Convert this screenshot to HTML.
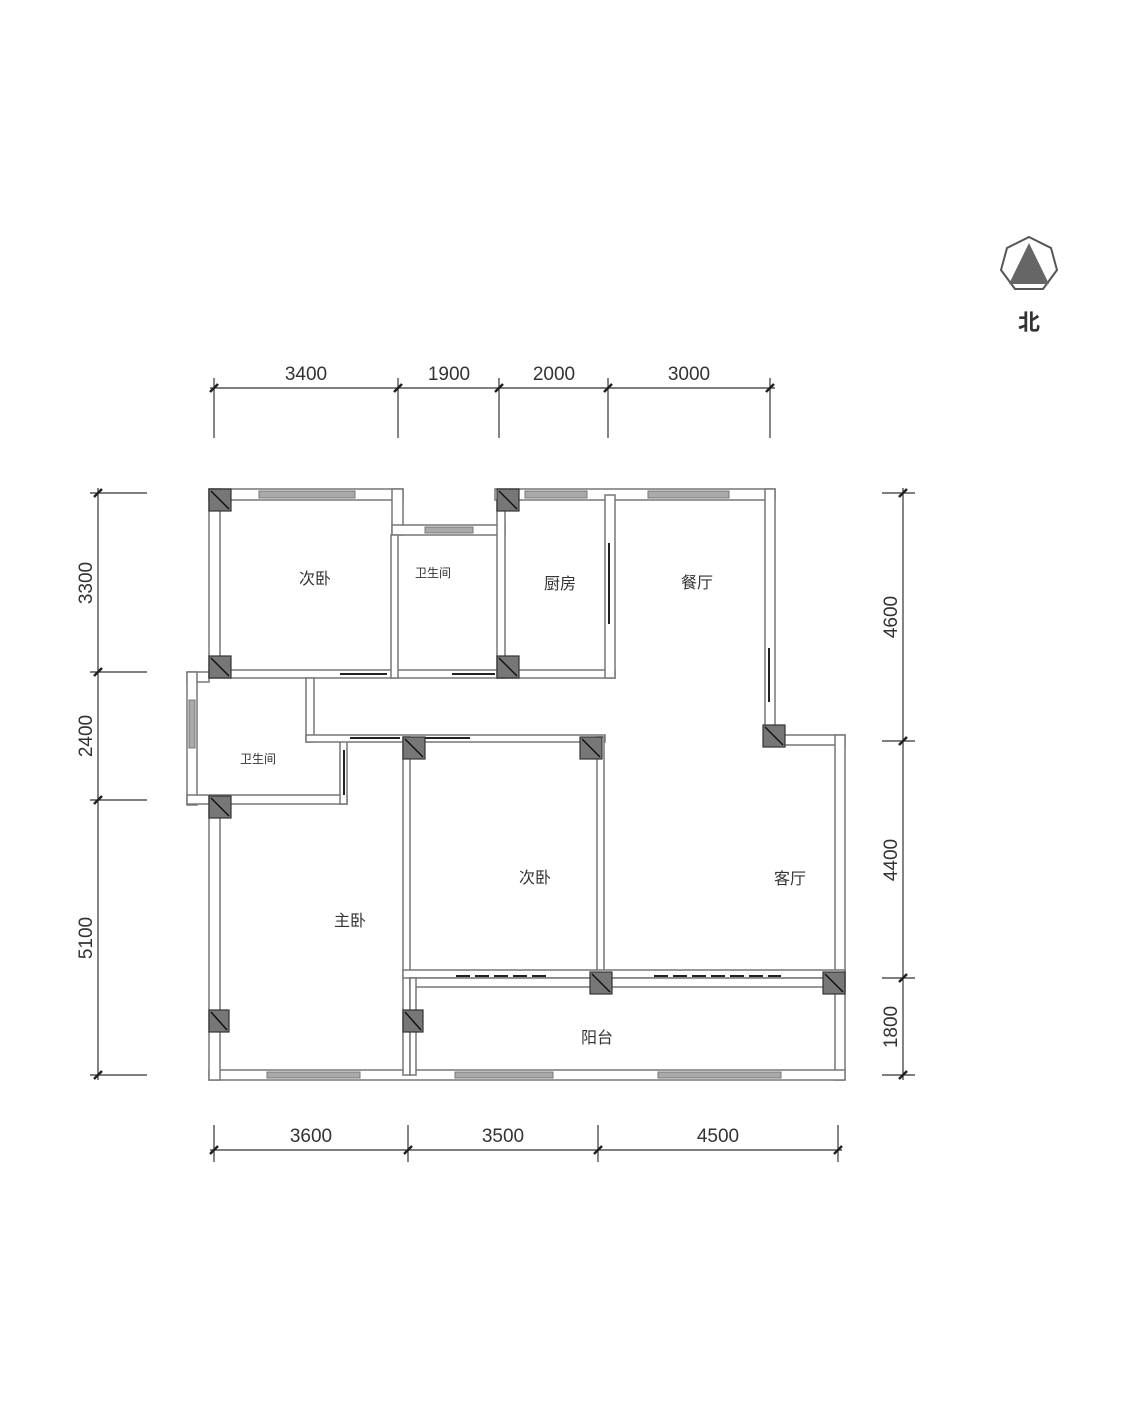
<!DOCTYPE html>
<html><head><meta charset="utf-8"><style>
html,body{margin:0;padding:0;background:#fff}
svg{display:block}
text{font-family:"Liberation Sans","Noto Sans CJK SC",sans-serif;fill:#333}
</style></head><body>
<svg width="1125" height="1409" viewBox="0 0 1125 1409" xmlns="http://www.w3.org/2000/svg">
<!-- north -->
<polygon points="1029,237 1051,248 1057,270 1043,289 1015,289 1001,270 1007,248" fill="#fff" stroke="#555" stroke-width="2"/>
<polygon points="1029,243 1049,284 1009,284" fill="#666"/>
<text x="1029" y="330" font-size="22" font-weight="bold" text-anchor="middle" fill="#222">北</text>

<g stroke="#333" stroke-width="1.2">
<!-- top dims -->
<line x1="210" y1="388" x2="775" y2="388"/>
<line x1="214" y1="378" x2="214" y2="438"/><line x1="398" y1="378" x2="398" y2="438"/><line x1="499" y1="378" x2="499" y2="438"/><line x1="608" y1="378" x2="608" y2="438"/><line x1="770" y1="378" x2="770" y2="438"/>
<!-- bottom -->
<line x1="210" y1="1150" x2="842" y2="1150"/>
<line x1="214" y1="1125" x2="214" y2="1162"/><line x1="408" y1="1125" x2="408" y2="1162"/><line x1="598" y1="1125" x2="598" y2="1162"/><line x1="838" y1="1125" x2="838" y2="1162"/>
<!-- left -->
<line x1="98" y1="488" x2="98" y2="1080"/>
<line x1="90" y1="493" x2="147" y2="493"/><line x1="90" y1="672" x2="147" y2="672"/><line x1="90" y1="800" x2="147" y2="800"/><line x1="90" y1="1075" x2="147" y2="1075"/>
<!-- right -->
<line x1="903" y1="488" x2="903" y2="1080"/>
<line x1="882" y1="493" x2="915" y2="493"/><line x1="882" y1="741" x2="915" y2="741"/><line x1="882" y1="978" x2="915" y2="978"/><line x1="882" y1="1075" x2="915" y2="1075"/>
</g>
<g stroke="#222" stroke-width="2.5">
<line x1="210" y1="392" x2="218" y2="384"/><line x1="394" y1="392" x2="402" y2="384"/><line x1="495" y1="392" x2="503" y2="384"/><line x1="604" y1="392" x2="612" y2="384"/><line x1="766" y1="392" x2="774" y2="384"/>
<line x1="210" y1="1154" x2="218" y2="1146"/><line x1="404" y1="1154" x2="412" y2="1146"/><line x1="594" y1="1154" x2="602" y2="1146"/><line x1="834" y1="1154" x2="842" y2="1146"/>
<line x1="94" y1="497" x2="102" y2="489"/><line x1="94" y1="676" x2="102" y2="668"/><line x1="94" y1="804" x2="102" y2="796"/><line x1="94" y1="1079" x2="102" y2="1071"/>
<line x1="899" y1="497" x2="907" y2="489"/><line x1="899" y1="745" x2="907" y2="737"/><line x1="899" y1="982" x2="907" y2="974"/><line x1="899" y1="1079" x2="907" y2="1071"/>
</g>
<g font-size="19" text-anchor="middle">
<text x="306" y="380">3400</text><text x="449" y="380">1900</text><text x="554" y="380">2000</text><text x="689" y="380">3000</text>
<text x="311" y="1142">3600</text><text x="503" y="1142">3500</text><text x="718" y="1142">4500</text>
<text transform="translate(92,583) rotate(-90)">3300</text>
<text transform="translate(92,736) rotate(-90)">2400</text>
<text transform="translate(92,938) rotate(-90)">5100</text>
<text transform="translate(897,617) rotate(-90)">4600</text>
<text transform="translate(897,860) rotate(-90)">4400</text>
<text transform="translate(897,1027) rotate(-90)">1800</text>
</g>

<!-- walls -->
<g fill="#fff" stroke="#777" stroke-width="1.5">
<rect x="209" y="489" width="194" height="11"/>
<rect x="392" y="489" width="11" height="46"/>
<rect x="392" y="525" width="113" height="10"/>
<rect x="495" y="489" width="280" height="11"/>
<rect x="765" y="489" width="10" height="246"/>
<rect x="765" y="735" width="80" height="10"/>
<rect x="835" y="735" width="10" height="345"/>
<rect x="209" y="1070" width="636" height="10"/>
<rect x="209" y="489" width="11" height="183"/>
<rect x="187" y="672" width="22" height="10"/>
<rect x="187" y="672" width="10" height="133"/>
<rect x="187" y="795" width="160" height="9"/>
<rect x="340" y="740" width="7" height="64"/>
<rect x="209" y="796" width="11" height="284"/>
<rect x="209" y="670" width="406" height="8"/>
<rect x="605" y="495" width="10" height="183"/>
<rect x="391" y="535" width="7" height="143"/>
<rect x="497" y="500" width="8" height="178"/>
<rect x="306" y="678" width="8" height="64"/>
<rect x="306" y="735" width="299" height="7"/>
<rect x="403" y="737" width="7" height="338"/>
<rect x="597" y="737" width="7" height="241"/>
<rect x="403" y="970" width="442" height="8"/>
<rect x="410" y="978" width="435" height="9"/>
<rect x="410" y="978" width="6" height="97"/>
</g>
<!-- windows -->
<g fill="#aaa" stroke="#777" stroke-width="1">
<rect x="259" y="491" width="96" height="7"/>
<rect x="425" y="527" width="48" height="6"/>
<rect x="525" y="491" width="62" height="7"/>
<rect x="648" y="491" width="81" height="7"/>
<rect x="189" y="700" width="6" height="48"/>
<rect x="267" y="1072" width="93" height="6"/>
<rect x="455" y="1072" width="98" height="6"/>
<rect x="658" y="1072" width="123" height="6"/>
</g>
<!-- doors / dark lines -->
<g stroke="#222" stroke-width="2">
<line x1="609" y1="543" x2="609" y2="624"/>
<line x1="769" y1="648" x2="769" y2="702"/>
<line x1="340" y1="674" x2="387" y2="674"/>
<line x1="452" y1="674" x2="495" y2="674"/>
<line x1="350" y1="738" x2="400" y2="738"/>
<line x1="415" y1="738" x2="470" y2="738"/>
<line x1="344" y1="750" x2="344" y2="795"/>
<line x1="456" y1="976" x2="551" y2="976" stroke-dasharray="14 5"/>
<line x1="654" y1="976" x2="781" y2="976" stroke-dasharray="14 5"/>
</g>
<!-- columns -->
<g fill="#777" stroke="#333" stroke-width="1.2">
<rect x="209" y="489" width="22" height="22"/><rect x="497" y="489" width="22" height="22"/>
<rect x="209" y="656" width="22" height="22"/><rect x="497" y="656" width="22" height="22"/>
<rect x="209" y="796" width="22" height="22"/><rect x="403" y="737" width="22" height="22"/>
<rect x="580" y="737" width="22" height="22"/><rect x="763" y="725" width="22" height="22"/>
<rect x="590" y="972" width="22" height="22"/><rect x="823" y="972" width="22" height="22"/>
<rect x="209" y="1010" width="20" height="22"/><rect x="403" y="1010" width="20" height="22"/>
</g>
<g stroke="#111" stroke-width="1.5">
<line x1="211" y1="491" x2="229" y2="509"/><line x1="499" y1="491" x2="517" y2="509"/>
<line x1="211" y1="658" x2="229" y2="676"/><line x1="499" y1="658" x2="517" y2="676"/>
<line x1="211" y1="798" x2="229" y2="816"/><line x1="405" y1="739" x2="423" y2="757"/>
<line x1="582" y1="739" x2="600" y2="757"/><line x1="765" y1="727" x2="783" y2="745"/>
<line x1="592" y1="974" x2="610" y2="992"/><line x1="825" y1="974" x2="843" y2="992"/>
<line x1="211" y1="1012" x2="227" y2="1030"/><line x1="405" y1="1012" x2="421" y2="1030"/>
</g>

<g font-size="16" text-anchor="middle" fill="#333">
<text x="315" y="584">次卧</text>
<text x="433" y="577" font-size="12">卫生间</text>
<text x="560" y="589">厨房</text>
<text x="697" y="588">餐厅</text>
<text x="258" y="763" font-size="12">卫生间</text>
<text x="535" y="883">次卧</text>
<text x="790" y="884">客厅</text>
<text x="350" y="926">主卧</text>
<text x="597" y="1043">阳台</text>
</g>
</svg>
</body></html>
